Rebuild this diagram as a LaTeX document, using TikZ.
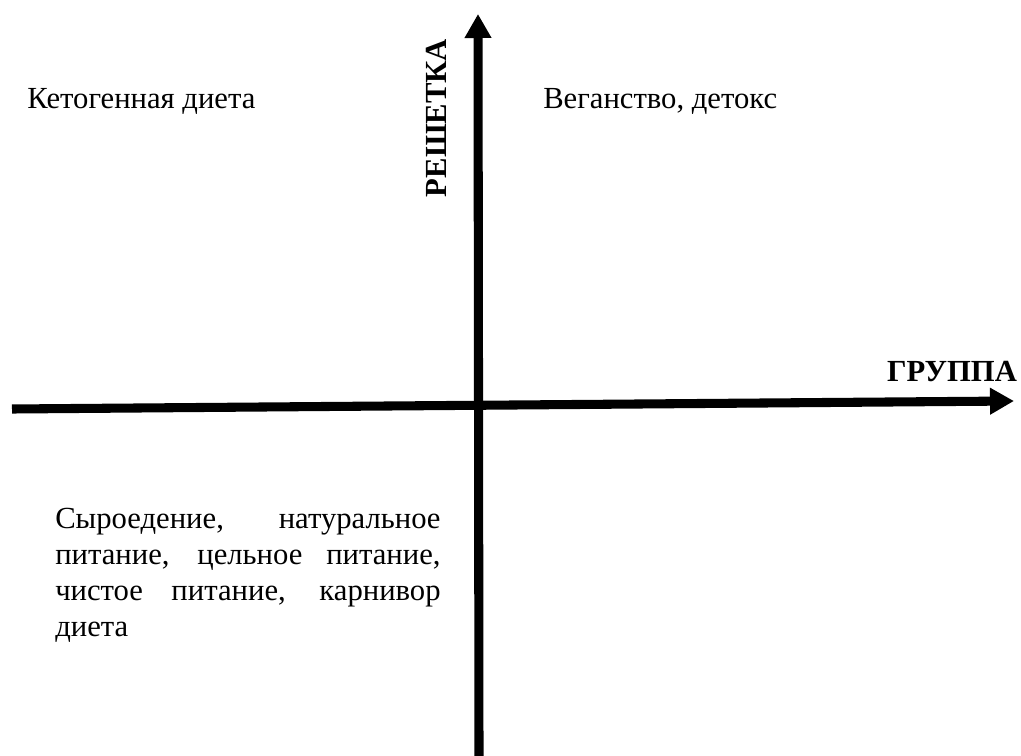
\documentclass[tikz,border=0pt]{standalone}
\usepackage{fontspec}
\setmainfont{Liberation Serif}
\usetikzlibrary{arrows.meta}

\begin{document}
\begin{tikzpicture}[x=0.75pt,y=-0.75pt,
  axis/.style={line width=6.8pt,-{Triangle[length=18pt,width=19pt]}},
  lbl/.style={inner sep=0pt,font=\fontsize{23}{27}\selectfont},
  axlbl/.style={lbl,font=\fontsize{23}{27}\selectfont\bfseries}]
\useasboundingbox (0,0) rectangle (1021,756);
% axes
\coordinate (xl) at (12,409);
\coordinate (xr) at (1014,401);
\coordinate (yb) at (479,760);
\coordinate (yt) at (478,14);
\draw[axis] (xl) -- (xr);
\draw[axis] (yb) -- (yt);
\node[axlbl] (grp) at (952,372) {ГРУППА};
\node[axlbl,rotate=90] (resh) at (436,118) {РЕШЕТКА};
% quadrants
\node[lbl,anchor=base west] (keto) at (27,109) {Кетогенная диета};
\node[lbl,anchor=base west] (vegan) at (543,109) {Веганство, детокс};
\node[lbl,anchor=north west,text width=289pt,align=justify] (raw) at (55,508)
  {Сыроедение, натуральное питание, цельное питание, чистое питание, карнивор диета};
\end{tikzpicture}
\end{document}
